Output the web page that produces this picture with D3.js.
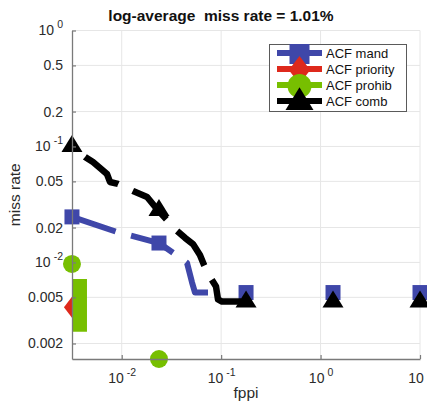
<!DOCTYPE html>
<html>
<head>
<meta charset="utf-8">
<script src="https://cdn.jsdelivr.net/npm/d3@7"></script>
<style>
  body { margin: 0; background: #fff; }
  svg { font-family: "Liberation Sans", Arial, sans-serif; }
</style>
</head>
<body>
<div id="chart"></div>
<script>
const title_text = "log-average  miss rate = 1.01%";
const x_label = "fppi";
const y_label = "miss rate";

const series_names = ["ACF mand", "ACF priority", "ACF prohib", "ACF comb"];
const series_colors = ["#3f47a9", "#de291c", "#77bf00", "#000000"];
const series_markers = ["square", "diamond", "circle", "triangle"];

// fppi positions where markers are placed
const marker_fppi = [0.00316, 0.0237, 0.178, 1.334, 10];

const mand_fppi = [0.00316, 0.00897, 0.0237, 0.0343, 0.0454, 0.0510, 0.0546, 0.0738];
const mand_mr = [0.0247, 0.0183, 0.0147, 0.0118, 0.0099, 0.0067, 0.0055, 0.0055];
const mand_marker_mr = [0.0247, 0.0147, 0.0055, 0.0055, 0.0055];

const priority_fppi = [];
const priority_mr = [];
const priority_marker_mr = [0.0041];

const prohib_fppi = [0.00376, 0.00376];
const prohib_mr = [0.0072, 0.00252];
const prohib_marker_mr = [0.0097, 0.00147];

const comb_fppi = [0.00316, 0.00428, 0.00514, 0.00605, 0.00711, 0.00762, 0.00918, 0.0130, 0.0180, 0.0226,
    0.0292, 0.0360, 0.0433, 0.0521, 0.0612, 0.0673, 0.0773, 0.0888, 0.0930, 0.102, 0.178];
const comb_mr = [0.101, 0.0812, 0.0734, 0.0653, 0.0579, 0.0494, 0.0475, 0.0413, 0.0367, 0.0289,
    0.0228, 0.0187, 0.0163, 0.0144, 0.0116, 0.0095, 0.0075, 0.0062, 0.0048, 0.0046, 0.0046];
const comb_marker_mr = [0.101, 0.0283, 0.0046, 0.0046, 0.0046];

const y_ticks = [0.002, 0.005, 0.01, 0.02, 0.05, 0.1, 0.2, 0.5, 1];
const y_tick_labels = ["0.002", "0.005", "10^-2", "0.02", "0.05", "10^-1", "0.2", "0.5", "10^0"];
const x_ticks = [0.01, 0.1, 1, 10];
const x_tick_labels = ["10^-2", "10^-1", "10^0", "10^1"];

class miss_rate_plot{

    constructor(div_id, width, height){
        var self = this;
        self.margin = {left: 72, right: 7, top: 30.5, bottom: 45};
        self.width = width - self.margin.left - self.margin.right;
        self.height = height - self.margin.top - self.margin.bottom;

        self.svg = d3.select(`#${div_id}`).append("svg")
            .attr("width", width)
            .attr("height", height);

        self.xScale = d3.scaleLog()
            .domain([Math.pow(10, -2.5), 10])
            .range([self.margin.left, self.margin.left + self.width]);

        self.yScale = d3.scaleLog()
            .domain([0.00147, 1])
            .range([self.margin.top + self.height, self.margin.top]);

        self.svg.append("clipPath").attr("id", "plot-clip")
            .append("rect")
            .attr("x", self.margin.left)
            .attr("y", self.margin.top)
            .attr("width", self.width)
            .attr("height", self.height);
    }

    marker_path(kind, s){
        if(kind == "square") return `M${-s},${-s}H${s}V${s}H${-s}Z`;
        if(kind == "diamond") return `M0,${-s*1.4}L${s*1.07},0L0,${s*1.4}L${-s*1.07},0Z`;
        if(kind == "triangle") return `M0,${-s*1.47}L${s*1.4},${s*0.8}L${-s*1.4},${s*0.8}Z`;
        return d3.symbol(d3.symbolCircle, Math.PI * s * s * 1.44)();
    }

    // "10^-2" -> 10 with superscript
    put_label(sel, label){
        sel.text(null);
        let parts = label.split("^");
        sel.append("tspan").text(parts[0]);
        if(parts.length > 1){
            sel.append("tspan")
                .attr("dx", 3)
                .attr("dy", -7)
                .attr("font-size", 10.5)
                .text(parts[1]);
        }
    }

    draw(series){
        var self = this;
        let x0 = self.margin.left, x1 = self.margin.left + self.width;
        let y0 = self.margin.top, y1 = self.margin.top + self.height;

        // grid
        let grid = self.svg.append("g").attr("class", "grid")
            .attr("stroke", "#e6e6e6").attr("stroke-width", 1);
        grid.selectAll(".hy").data(y_ticks).enter().append("line")
            .attr("x1", x0).attr("x2", x1)
            .attr("y1", d => self.yScale(d)).attr("y2", d => self.yScale(d));
        grid.selectAll(".vx").data(x_ticks).enter().append("line")
            .attr("y1", y0).attr("y2", y1)
            .attr("x1", d => self.xScale(d)).attr("x2", d => self.xScale(d));

        let line = d3.line()
            .x(d => self.xScale(d[0]))
            .y(d => self.yScale(d[1]));

        series.forEach(s => {
            let pts = s.fppi.map((f, i) => [f, s.mr[i]]);
            if(pts.length > 1){
                self.svg.append("path")
                    .attr("clip-path", "url(#plot-clip)")
                    .attr("d", line(pts))
                    .attr("fill", "none")
                    .attr("stroke", s.color)
                    .attr("stroke-width", s.line_width)
                    .attr("stroke-linejoin", "round")
                    .attr("stroke-dasharray", s.dash)
                    .attr("stroke-dashoffset", s.dash_offset);
            }
            let marks = s.marker_mr.map((m, i) => [marker_fppi[i], m]);
            self.svg.append("g").selectAll("path")
                .data(marks)
                .enter()
                .append("path")
                    .attr("transform", d => `translate(${self.xScale(d[0])},${self.yScale(d[1])})`)
                    .attr("d", self.marker_path(s.marker, 7.5))
                    .attr("fill", s.color);
        });

        // axes on top
        let yAxis = d3.axisLeft(self.yScale)
            .tickValues(y_ticks)
            .tickSizeInner(-4)
            .tickSizeOuter(0)
            .tickPadding(9)
            .tickFormat("");
        let xAxis = d3.axisBottom(self.xScale)
            .tickValues(x_ticks)
            .tickSizeInner(-4)
            .tickSizeOuter(0)
            .tickPadding(14)
            .tickFormat("");

        let gy = self.svg.append("g")
            .attr("transform", `translate(${x0},0)`)
            .call(yAxis);
        let gx = self.svg.append("g")
            .attr("transform", `translate(0,${y1})`)
            .call(xAxis);

        [gx, gy].forEach(g => {
            g.select(".domain").attr("stroke", "#7a7a7a").attr("stroke-width", 1.3);
            g.selectAll(".tick line").attr("stroke", "#7a7a7a").attr("stroke-width", 1.2);
            g.selectAll(".tick text").attr("font-size", 14).attr("fill", "#2b2b2b")
                .attr("font-family", "Liberation Sans, Arial, sans-serif");
        });
        gy.selectAll(".tick text").each(function(d, i){ self.put_label(d3.select(this), y_tick_labels[i]); });
        gx.selectAll(".tick text").each(function(d, i){ self.put_label(d3.select(this), x_tick_labels[i]); })
            .attr("text-anchor", "middle");

        // title and axis labels
        self.svg.append("text")
            .attr("x", 221).attr("y", 21)
            .attr("text-anchor", "middle")
            .attr("font-size", 15.5)
            .attr("font-weight", "bold")
            .attr("fill", "#111")
            .style("white-space", "pre")
            .text(title_text);

        self.svg.append("text")
            .attr("x", (x0 + x1) / 2).attr("y", 398)
            .attr("text-anchor", "middle")
            .attr("font-size", 15.5)
            .attr("fill", "#2b2b2b")
            .text(x_label);

        self.svg.append("text")
            .attr("transform", `translate(20,${(y0 + y1) / 2}) rotate(-90)`)
            .attr("text-anchor", "middle")
            .attr("font-size", 15.5)
            .attr("fill", "#2b2b2b")
            .text(y_label);

        // legend
        let lg = self.svg.append("g").attr("class", "legend");
        lg.append("rect")
            .attr("x", 269.5).attr("y", 44.5)
            .attr("width", 137).attr("height", 67)
            .attr("fill", "#fff")
            .attr("stroke", "#5a5a5a")
            .attr("stroke-width", 1);
        series.forEach((s, i) => {
            let cy = 53 + i * 16;
            lg.append("line")
                .attr("x1", 277).attr("x2", 322)
                .attr("y1", cy).attr("y2", cy)
                .attr("stroke", s.color)
                .attr("stroke-width", 6);
            lg.append("path")
                .attr("transform", `translate(299.5,${cy + 1})`)
                .attr("d", self.marker_path(s.marker, 10))
                .attr("fill", s.color);
            lg.append("text")
                .attr("x", 326).attr("y", cy + 4.5)
                .attr("font-size", 13)
                .attr("fill", "#111")
                .text(s.name);
        });
    }
}

let series = [
    {fppi: mand_fppi, mr: mand_mr, marker_mr: mand_marker_mr, dash: "46,16", dash_offset: 0, line_width: 6},
    {fppi: priority_fppi, mr: priority_mr, marker_mr: priority_marker_mr, dash: "46,16", dash_offset: 0, line_width: 6},
    {fppi: prohib_fppi, mr: prohib_mr, marker_mr: prohib_marker_mr, dash: null, dash_offset: 0, line_width: 15},
    {fppi: comb_fppi, mr: comb_mr, marker_mr: comb_marker_mr, dash: "45,16", dash_offset: 44, line_width: 6.5}
];
series.forEach((s, i) => {
    s.name = series_names[i];
    s.color = series_colors[i];
    s.marker = series_markers[i];
});

let plot = new miss_rate_plot("chart", 427, 404);
plot.draw(series);
</script>
</body>
</html>
